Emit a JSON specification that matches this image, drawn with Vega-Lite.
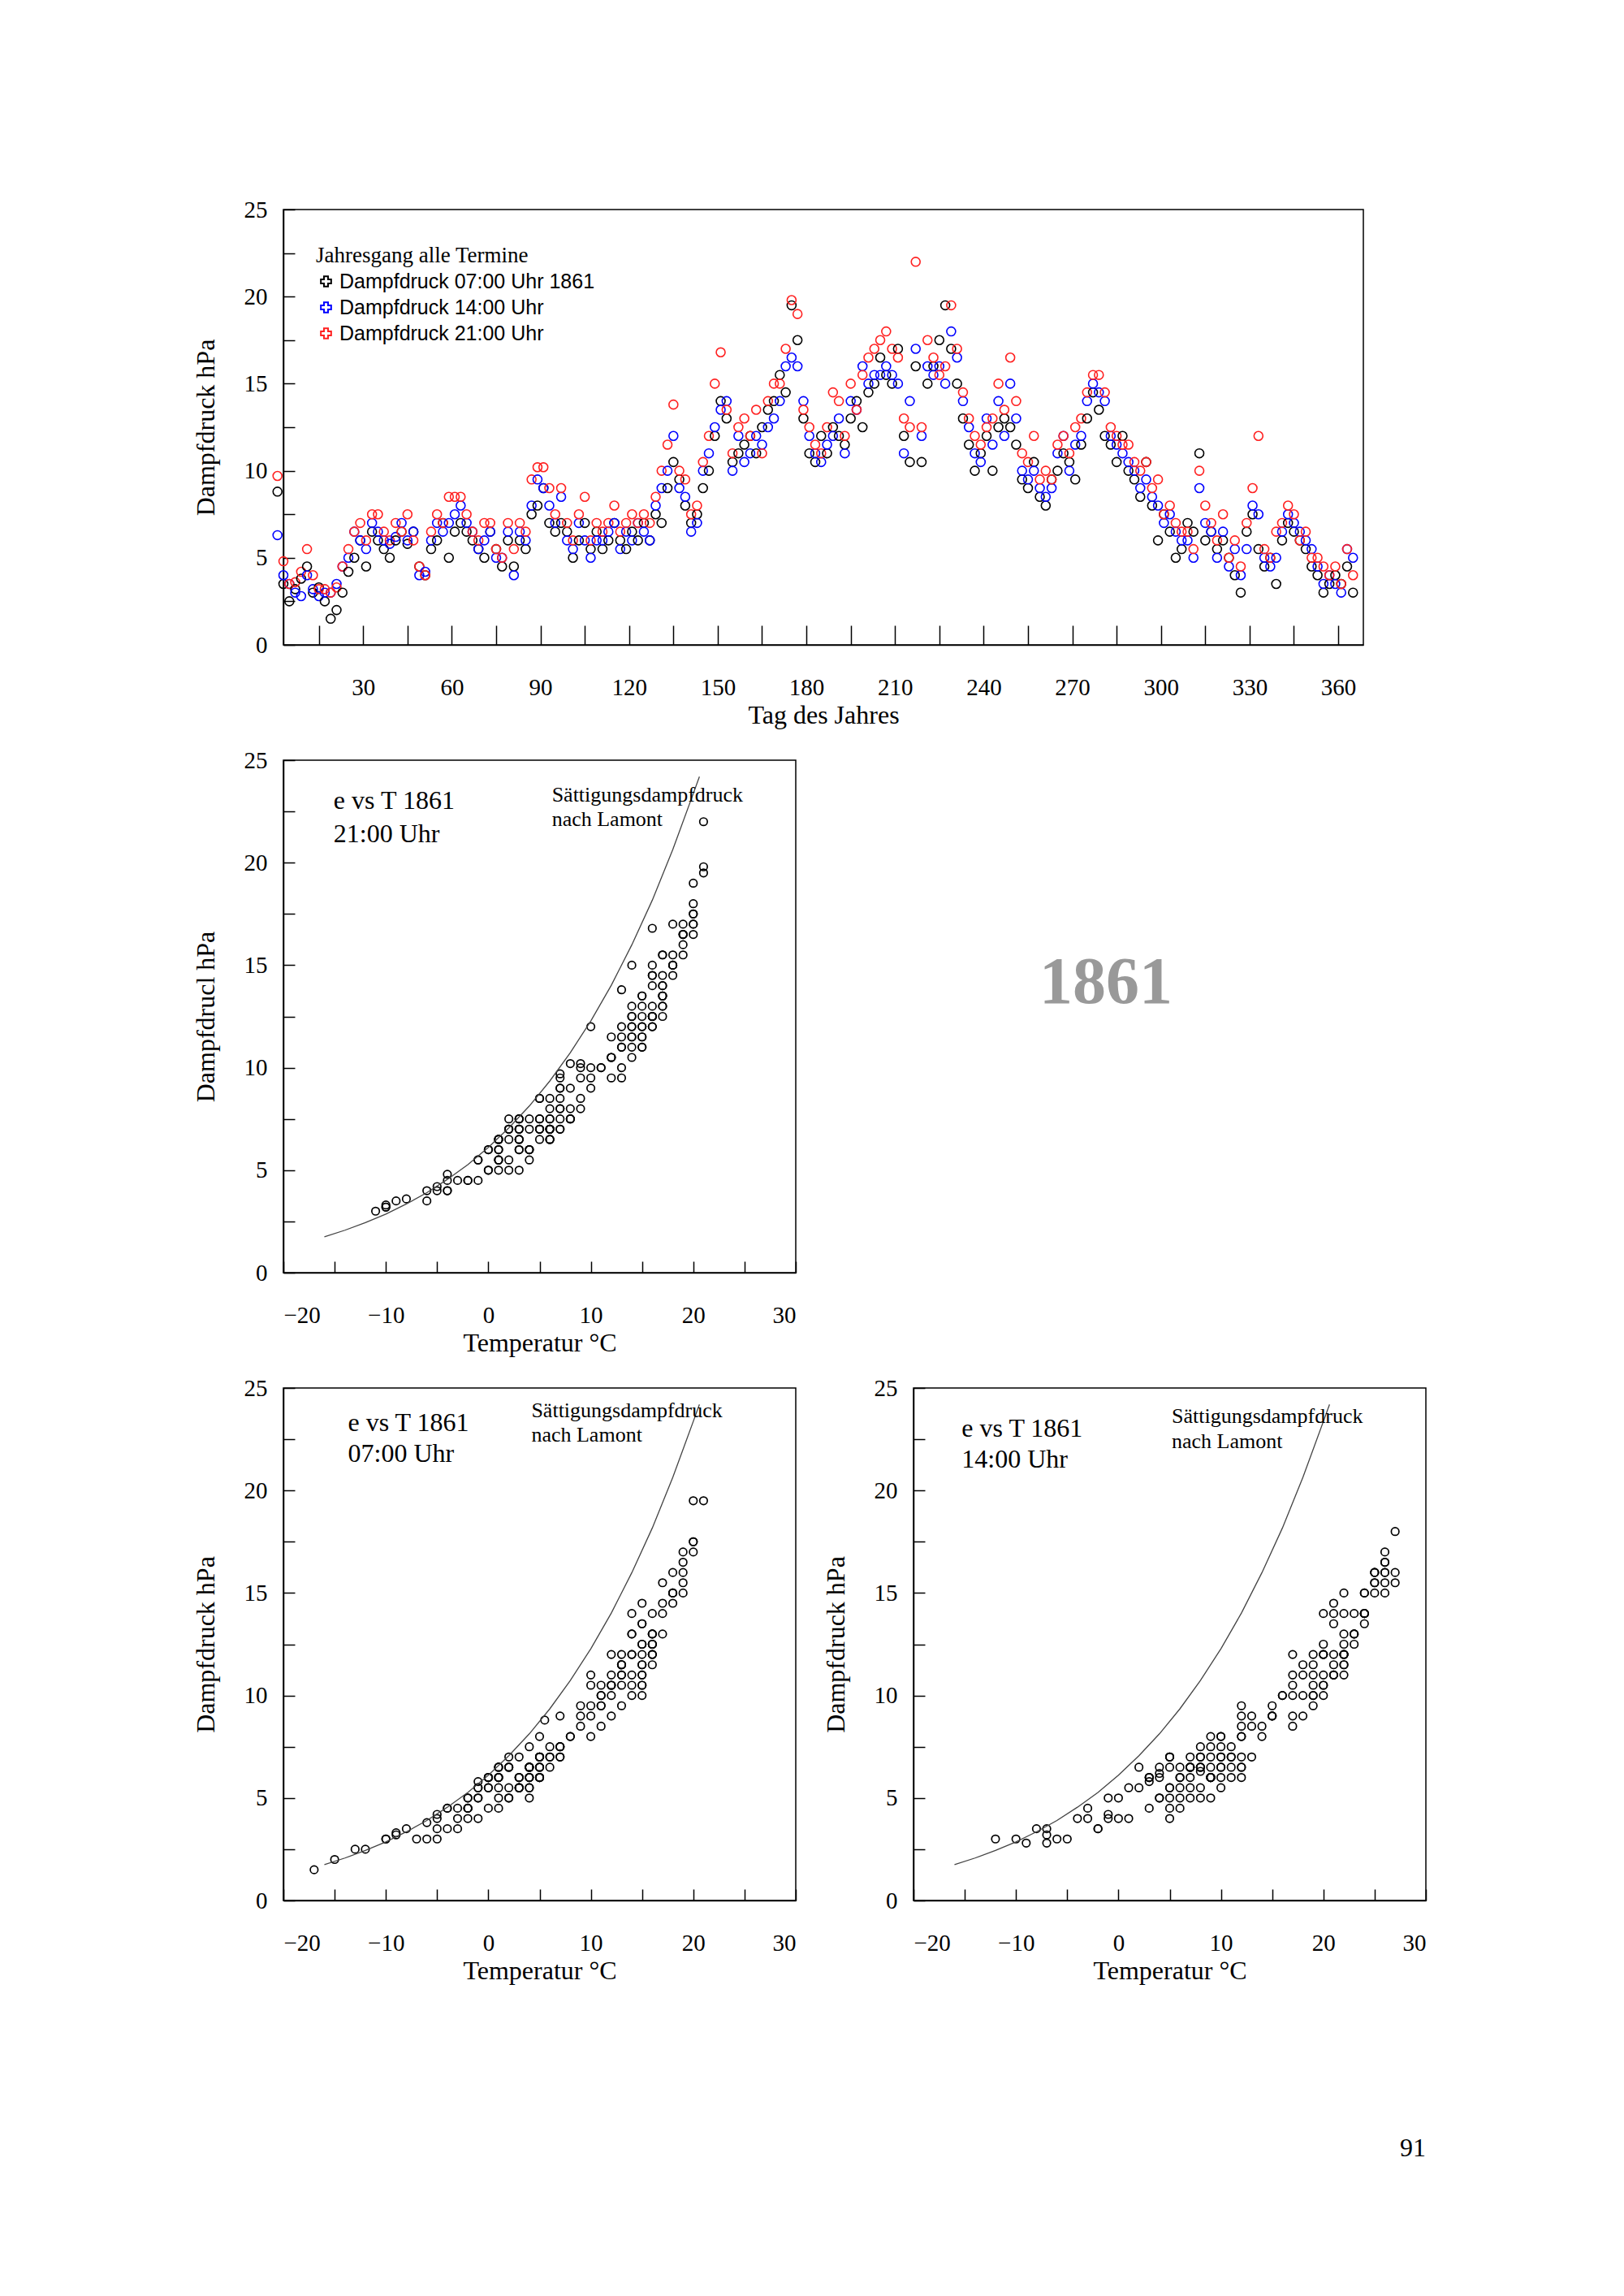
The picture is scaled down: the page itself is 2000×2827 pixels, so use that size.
{
"$schema":"https://vega.github.io/schema/vega-lite/v6.json",
"padding":{"left":236,"top":243,"right":0,"bottom":0},
"background":"white",
"config":{"view":{"stroke":"black","strokeWidth":1.5},"point":{"opacity":1},
"axis":{"grid":false,"domainColor":"black","tickColor":"black","domainWidth":1.5,"tickWidth":1.5,"tickSize":-14,"labelFont":"Liberation Serif","labelFontSize":29,"labelColor":"black","titleFont":"Liberation Serif","titleFontSize":32,"titleFontWeight":"normal","titleColor":"black"},
"axisX":{"labelPadding":52,"titlePadding":4},"axisY":{"labelPadding":34,"titlePadding":30},
"text":{"font":"Liberation Serif","color":"black"}},
"datasets":{
"sat":[{"t":-16,"s":1.75},{"t":-14,"s":2.07},{"t":-12,"s":2.44},{"t":-10,"s":2.86},{"t":-8,"s":3.35},{"t":-6,"s":3.9},{"t":-4,"s":4.55},{"t":-2,"s":5.27},{"t":0,"s":6.11},{"t":2,"s":7.06},{"t":4,"s":8.13},{"t":6,"s":9.35},{"t":8,"s":10.73},{"t":10,"s":12.28},{"t":12,"s":14.02},{"t":14,"s":15.99},{"t":16,"s":18.17},{"t":18,"s":20.64},{"t":20,"s":23.37},{"t":20.6,"s":24.2}],
"m":[
{"d":1,"a":8.8,"b":6.3,"c":9.7,"x":5.5,"y":8,"z":7},
{"d":3,"a":3.5,"b":4.0,"c":4.8,"x":-8,"y":-4,"z":-4},
{"d":5,"a":2.5,"b":3.5,"c":3.5,"x":-12,"y":-7,"z":-9},
{"d":7,"a":3.2,"b":3.0,"c":3.6,"x":-9,"y":-6,"z":-8},
{"d":9,"a":3.8,"b":2.8,"c":4.2,"x":-6,"y":-7,"z":-5},
{"d":11,"a":4.5,"b":4.0,"c":5.5,"x":-4,"y":-3,"z":-1},
{"d":13,"a":3.0,"b":3.2,"c":4.0,"x":-10,"y":-7,"z":-6},
{"d":15,"a":3.3,"b":2.8,"c":3.2,"x":-9,"y":-9,"z":-10},
{"d":17,"a":2.5,"b":3.0,"c":3.2,"x":-13,"y":-10,"z":-10},
{"d":19,"a":1.5,"b":3.0,"c":3.0,"x":-17,"y":-12,"z":-11},
{"d":21,"a":2.0,"b":3.5,"c":3.3,"x":-15,"y":-8,"z":-10},
{"d":23,"a":3.0,"b":4.5,"c":4.5,"x":-10,"y":-3,"z":-4},
{"d":25,"a":4.2,"b":5.0,"c":5.5,"x":-5,"y":-1,"z":-1},
{"d":27,"a":5.0,"b":6.5,"c":6.5,"x":-2,"y":2,"z":1},
{"d":29,"a":6.0,"b":6.0,"c":7.0,"x":0,"y":3,"z":2},
{"d":31,"a":4.5,"b":5.5,"c":6.0,"x":-3,"y":1,"z":0},
{"d":33,"a":6.5,"b":7.0,"c":7.5,"x":1,"y":5,"z":3},
{"d":35,"a":6.0,"b":6.5,"c":7.5,"x":0,"y":4,"z":2},
{"d":37,"a":5.5,"b":6.0,"c":6.5,"x":-1,"y":3,"z":1},
{"d":39,"a":5.0,"b":5.8,"c":6.0,"x":-2,"y":3,"z":0},
{"d":41,"a":6.0,"b":6.2,"c":7.0,"x":0,"y":4,"z":2},
{"d":43,"a":6.5,"b":7.0,"c":6.5,"x":1,"y":5,"z":1},
{"d":45,"a":5.8,"b":6.0,"c":7.5,"x":-1,"y":4,"z":3},
{"d":47,"a":6.5,"b":6.5,"c":6.0,"x":2,"y":5,"z":1},
{"d":49,"a":4.5,"b":4.0,"c":4.5,"x":-4,"y":0,"z":-3},
{"d":51,"a":4.0,"b":4.2,"c":4.0,"x":-5,"y":-1,"z":-5},
{"d":53,"a":5.5,"b":6.0,"c":6.5,"x":-1,"y":3,"z":1},
{"d":55,"a":6.0,"b":7.0,"c":7.5,"x":0,"y":5,"z":3},
{"d":57,"a":7.0,"b":6.5,"c":7.0,"x":2,"y":6,"z":2},
{"d":59,"a":5.0,"b":7.0,"c":8.5,"x":-1,"y":7,"z":5},
{"d":61,"a":6.5,"b":7.5,"c":8.5,"x":1,"y":8,"z":5},
{"d":63,"a":7.0,"b":8.0,"c":8.5,"x":3,"y":9,"z":6},
{"d":65,"a":6.5,"b":7.0,"c":7.5,"x":2,"y":8,"z":4},
{"d":67,"a":6.0,"b":6.5,"c":6.5,"x":1,"y":7,"z":2},
{"d":69,"a":5.5,"b":5.5,"c":6.0,"x":0,"y":5,"z":1},
{"d":71,"a":5.0,"b":6.0,"c":7.0,"x":-1,"y":6,"z":3},
{"d":73,"a":6.5,"b":6.5,"c":7.0,"x":2,"y":8,"z":4},
{"d":75,"a":5.5,"b":5.0,"c":5.5,"x":0,"y":6,"z":1},
{"d":77,"a":4.5,"b":5.0,"c":5.0,"x":-2,"y":4,"z":0},
{"d":79,"a":6.0,"b":6.5,"c":7.0,"x":1,"y":7,"z":3},
{"d":81,"a":4.5,"b":4.0,"c":5.5,"x":-2,"y":5,"z":1},
{"d":83,"a":6.0,"b":6.5,"c":7.0,"x":1,"y":8,"z":3},
{"d":85,"a":5.5,"b":6.0,"c":6.5,"x":1,"y":7,"z":3},
{"d":87,"a":7.5,"b":8.0,"c":9.5,"x":4,"y":10,"z":7},
{"d":89,"a":8.0,"b":9.5,"c":10.2,"x":5,"y":12,"z":8},
{"d":91,"a":9.0,"b":9.0,"c":10.2,"x":7,"y":13,"z":9},
{"d":93,"a":7.0,"b":8.0,"c":9.0,"x":5,"y":12,"z":7},
{"d":95,"a":6.5,"b":7.0,"c":7.5,"x":4,"y":10,"z":6},
{"d":97,"a":7.0,"b":8.5,"c":9.0,"x":5,"y":12,"z":7},
{"d":99,"a":6.5,"b":6.0,"c":7.0,"x":4,"y":9,"z":5},
{"d":101,"a":5.0,"b":5.5,"c":6.0,"x":2,"y":8,"z":4},
{"d":103,"a":6.0,"b":7.0,"c":7.5,"x":3,"y":10,"z":5},
{"d":105,"a":7.0,"b":6.0,"c":8.5,"x":5,"y":9,"z":7},
{"d":107,"a":5.5,"b":5.0,"c":6.0,"x":3,"y":9,"z":4},
{"d":109,"a":6.5,"b":6.0,"c":7.0,"x":4,"y":10,"z":6},
{"d":111,"a":5.5,"b":6.0,"c":6.5,"x":3,"y":9,"z":5},
{"d":113,"a":6.0,"b":6.5,"c":7.0,"x":4,"y":10,"z":6},
{"d":115,"a":7.0,"b":7.0,"c":8.0,"x":5,"y":11,"z":7},
{"d":117,"a":6.0,"b":5.5,"c":6.5,"x":4,"y":10,"z":6},
{"d":119,"a":5.5,"b":6.5,"c":7.0,"x":4,"y":11,"z":6},
{"d":121,"a":6.5,"b":6.0,"c":7.5,"x":5,"y":11,"z":7},
{"d":123,"a":6.0,"b":7.0,"c":7.0,"x":5,"y":12,"z":7},
{"d":125,"a":7.0,"b":6.5,"c":7.5,"x":6,"y":12,"z":8},
{"d":127,"a":6.0,"b":6.0,"c":7.0,"x":5,"y":12,"z":7},
{"d":129,"a":7.5,"b":8.0,"c":8.5,"x":7,"y":14,"z":9},
{"d":131,"a":7.0,"b":9.0,"c":10.0,"x":7,"y":15,"z":10},
{"d":133,"a":9.0,"b":10.0,"c":11.5,"x":9,"y":16,"z":12},
{"d":135,"a":10.5,"b":12.0,"c":13.8,"x":10,"y":17,"z":13},
{"d":137,"a":9.5,"b":9.0,"c":10.0,"x":9,"y":15,"z":11},
{"d":139,"a":8.0,"b":8.5,"c":9.5,"x":8,"y":14,"z":10},
{"d":141,"a":7.0,"b":6.5,"c":7.5,"x":7,"y":12,"z":8},
{"d":143,"a":7.5,"b":7.0,"c":8.0,"x":7,"y":13,"z":9},
{"d":145,"a":9.0,"b":10.0,"c":10.5,"x":10,"y":17,"z":12},
{"d":147,"a":10.0,"b":11.0,"c":12.0,"x":11,"y":18,"z":13},
{"d":149,"a":12.0,"b":12.5,"c":15.0,"x":12,"y":20,"z":14},
{"d":151,"a":14.0,"b":13.5,"c":16.8,"x":14,"y":21,"z":16},
{"d":153,"a":13.0,"b":14.0,"c":13.5,"x":14,"y":22,"z":15},
{"d":155,"a":10.5,"b":10.0,"c":11.0,"x":12,"y":19,"z":13},
{"d":157,"a":11.0,"b":12.0,"c":12.5,"x":13,"y":20,"z":14},
{"d":159,"a":11.5,"b":10.5,"c":13.0,"x":13,"y":19,"z":14},
{"d":161,"a":12.0,"b":11.0,"c":12.0,"x":14,"y":20,"z":15},
{"d":163,"a":11.0,"b":12.0,"c":13.5,"x":13,"y":21,"z":15},
{"d":165,"a":12.5,"b":11.5,"c":11.0,"x":15,"y":22,"z":14},
{"d":167,"a":13.5,"b":12.5,"c":14.0,"x":15,"y":23,"z":16},
{"d":169,"a":14.0,"b":13.0,"c":15.0,"x":16,"y":22,"z":16},
{"d":171,"a":15.5,"b":14.0,"c":15.0,"x":17,"y":24,"z":18},
{"d":173,"a":14.5,"b":16.0,"c":17.0,"x":17,"y":25,"z":18},
{"d":175,"a":19.5,"b":16.5,"c":19.8,"x":20,"y":26,"z":21},
{"d":177,"a":17.5,"b":16.0,"c":19.0,"x":20,"y":27,"z":20},
{"d":179,"a":13.0,"b":14.0,"c":13.5,"x":16,"y":24,"z":17},
{"d":181,"a":11.0,"b":12.0,"c":12.5,"x":15,"y":22,"z":16},
{"d":183,"a":10.5,"b":11.0,"c":11.5,"x":14,"y":21,"z":15},
{"d":185,"a":12.0,"b":10.5,"c":11.0,"x":15,"y":20,"z":15},
{"d":187,"a":11.0,"b":11.5,"c":12.5,"x":14,"y":22,"z":16},
{"d":189,"a":12.5,"b":12.0,"c":14.5,"x":15,"y":22,"z":17},
{"d":191,"a":12.0,"b":13.0,"c":14.0,"x":16,"y":23,"z":17},
{"d":193,"a":11.5,"b":11.0,"c":12.0,"x":15,"y":21,"z":16},
{"d":195,"a":13.0,"b":14.0,"c":15.0,"x":16,"y":24,"z":18},
{"d":197,"a":14.0,"b":13.5,"c":13.5,"x":17,"y":24,"z":17},
{"d":199,"a":12.5,"b":16.0,"c":15.5,"x":16,"y":25,"z":18},
{"d":201,"a":14.5,"b":15.0,"c":16.5,"x":18,"y":26,"z":19},
{"d":203,"a":15.0,"b":15.5,"c":17.0,"x":18,"y":26,"z":19},
{"d":205,"a":16.5,"b":15.5,"c":17.5,"x":19,"y":27,"z":20},
{"d":207,"a":15.5,"b":16.0,"c":18.0,"x":19,"y":26,"z":20},
{"d":209,"a":15.0,"b":15.5,"c":17.0,"x":18,"y":25,"z":20},
{"d":211,"a":17.0,"b":15.0,"c":16.5,"x":19,"y":24,"z":19},
{"d":213,"a":12.0,"b":11.0,"c":13.0,"x":16,"y":22,"z":17},
{"d":215,"a":10.5,"b":14.0,"c":12.5,"x":15,"y":23,"z":16},
{"d":217,"a":16.0,"b":17.0,"c":22.0,"x":18,"y":26,"z":21},
{"d":219,"a":10.5,"b":12.0,"c":12.5,"x":15,"y":22,"z":17},
{"d":221,"a":15.0,"b":16.0,"c":17.5,"x":18,"y":25,"z":20},
{"d":223,"a":16.0,"b":15.5,"c":16.5,"x":19,"y":25,"z":20},
{"d":225,"a":17.5,"b":16.0,"c":15.5,"x":20,"y":26,"z":19},
{"d":227,"a":19.5,"b":15.0,"c":16.0,"x":21,"y":25,"z":19},
{"d":229,"a":17.0,"b":18.0,"c":19.5,"x":20,"y":27,"z":21},
{"d":231,"a":15.0,"b":16.5,"c":17.0,"x":19,"y":26,"z":20},
{"d":233,"a":13.0,"b":14.0,"c":14.5,"x":17,"y":24,"z":18},
{"d":235,"a":11.5,"b":12.5,"c":13.0,"x":16,"y":22,"z":17},
{"d":237,"a":10.0,"b":11.0,"c":12.0,"x":15,"y":21,"z":16},
{"d":239,"a":11.0,"b":10.5,"c":11.5,"x":15,"y":20,"z":15},
{"d":241,"a":12.0,"b":13.0,"c":12.5,"x":16,"y":23,"z":16},
{"d":243,"a":10.0,"b":11.5,"c":13.0,"x":14,"y":21,"z":16},
{"d":245,"a":12.5,"b":14.0,"c":15.0,"x":16,"y":24,"z":18},
{"d":247,"a":13.0,"b":12.0,"c":13.5,"x":16,"y":22,"z":17},
{"d":249,"a":12.5,"b":15.0,"c":16.5,"x":16,"y":24,"z":19},
{"d":251,"a":11.5,"b":13.0,"c":14.0,"x":15,"y":23,"z":17},
{"d":253,"a":9.5,"b":10.0,"c":11.0,"x":13,"y":20,"z":15},
{"d":255,"a":9.0,"b":9.5,"c":10.5,"x":12,"y":19,"z":14},
{"d":257,"a":10.5,"b":10.0,"c":12.0,"x":13,"y":19,"z":15},
{"d":259,"a":8.5,"b":9.0,"c":9.5,"x":11,"y":18,"z":13},
{"d":261,"a":8.0,"b":8.5,"c":10.0,"x":10,"y":17,"z":13},
{"d":263,"a":9.5,"b":9.0,"c":9.5,"x":11,"y":17,"z":12},
{"d":265,"a":10.0,"b":11.0,"c":11.5,"x":12,"y":19,"z":14},
{"d":267,"a":11.0,"b":12.0,"c":12.0,"x":12,"y":20,"z":14},
{"d":269,"a":10.5,"b":10.0,"c":11.0,"x":12,"y":18,"z":13},
{"d":271,"a":9.5,"b":11.5,"c":12.5,"x":11,"y":19,"z":14},
{"d":273,"a":11.5,"b":12.0,"c":13.0,"x":13,"y":20,"z":15},
{"d":275,"a":13.0,"b":14.0,"c":14.5,"x":14,"y":21,"z":16},
{"d":277,"a":14.5,"b":15.0,"c":15.5,"x":15,"y":22,"z":17},
{"d":279,"a":13.5,"b":14.5,"c":15.5,"x":15,"y":21,"z":17},
{"d":281,"a":12.0,"b":14.0,"c":14.5,"x":14,"y":20,"z":16},
{"d":283,"a":11.5,"b":12.0,"c":12.5,"x":13,"y":19,"z":15},
{"d":285,"a":10.5,"b":11.5,"c":12.0,"x":12,"y":18,"z":14},
{"d":287,"a":12.0,"b":11.0,"c":11.5,"x":13,"y":17,"z":14},
{"d":289,"a":10.0,"b":10.5,"c":11.5,"x":11,"y":17,"z":13},
{"d":291,"a":9.5,"b":10.0,"c":10.5,"x":10,"y":16,"z":12},
{"d":293,"a":8.5,"b":9.0,"c":10.0,"x":9,"y":15,"z":11},
{"d":295,"a":10.5,"b":9.5,"c":10.5,"x":11,"y":15,"z":12},
{"d":297,"a":8.0,"b":8.5,"c":9.0,"x":8,"y":13,"z":10},
{"d":299,"a":6.0,"b":8.0,"c":9.5,"x":5,"y":12,"z":9},
{"d":301,"a":7.5,"b":7.0,"c":7.5,"x":7,"y":11,"z":8},
{"d":303,"a":6.5,"b":7.5,"c":8.0,"x":6,"y":11,"z":8},
{"d":305,"a":5.0,"b":6.5,"c":7.0,"x":4,"y":10,"z":6},
{"d":307,"a":5.5,"b":6.0,"c":6.5,"x":4,"y":9,"z":6},
{"d":309,"a":7.0,"b":6.0,"c":6.5,"x":6,"y":9,"z":6},
{"d":311,"a":6.5,"b":5.0,"c":5.5,"x":5,"y":8,"z":4},
{"d":313,"a":11.0,"b":9.0,"c":10.0,"x":10,"y":12,"z":9},
{"d":315,"a":6.0,"b":7.0,"c":8.0,"x":5,"y":9,"z":7},
{"d":317,"a":6.5,"b":6.5,"c":7.0,"x":5,"y":9,"z":6},
{"d":319,"a":5.5,"b":5.0,"c":6.0,"x":3,"y":7,"z":4},
{"d":321,"a":6.0,"b":6.5,"c":7.5,"x":4,"y":8,"z":6},
{"d":323,"a":5.0,"b":4.5,"c":5.0,"x":2,"y":6,"z":3},
{"d":325,"a":4.0,"b":5.5,"c":6.0,"x":-1,"y":6,"z":3},
{"d":327,"a":3.0,"b":4.0,"c":4.5,"x":-5,"y":1,"z":-1},
{"d":329,"a":6.5,"b":5.5,"c":7.0,"x":4,"y":7,"z":5},
{"d":331,"a":7.5,"b":8.0,"c":9.0,"x":6,"y":10,"z":8},
{"d":333,"a":5.5,"b":7.5,"c":12.0,"x":3,"y":10,"z":10},
{"d":335,"a":4.5,"b":5.0,"c":5.5,"x":1,"y":5,"z":2},
{"d":337,"a":5.0,"b":4.5,"c":5.0,"x":1,"y":5,"z":2},
{"d":339,"a":3.5,"b":5.0,"c":6.5,"x":-3,"y":4,"z":3},
{"d":341,"a":6.0,"b":6.5,"c":7.0,"x":3,"y":7,"z":5},
{"d":343,"a":7.0,"b":7.5,"c":8.0,"x":5,"y":9,"z":6},
{"d":345,"a":6.5,"b":7.0,"c":7.5,"x":4,"y":8,"z":5},
{"d":347,"a":6.0,"b":6.5,"c":6.0,"x":3,"y":7,"z":3},
{"d":349,"a":5.5,"b":6.0,"c":6.5,"x":2,"y":6,"z":3},
{"d":351,"a":4.5,"b":5.5,"c":5.0,"x":0,"y":5,"z":1},
{"d":353,"a":4.0,"b":4.5,"c":5.0,"x":-2,"y":3,"z":0},
{"d":355,"a":3.0,"b":3.5,"c":4.5,"x":-6,"y":-2,"z":-2},
{"d":357,"a":3.5,"b":4.0,"c":4.0,"x":-4,"y":-1,"z":-4},
{"d":359,"a":4.0,"b":3.5,"c":4.5,"x":-3,"y":-2,"z":-2},
{"d":361,"a":3.5,"b":3.0,"c":3.5,"x":-5,"y":-5,"z":-6},
{"d":363,"a":4.5,"b":5.5,"c":5.5,"x":-2,"y":2,"z":1},
{"d":365,"a":3.0,"b":5.0,"c":4.0,"x":-7,"y":0,"z":-4}
]},
"vconcat":[
{"width":1330,"height":536,"data":{"name":"m"},
 "transform":[{"fold":["a","b","c"],"as":["k","e"]}],
 "mark":{"type":"point","filled":false,"size":120,"strokeWidth":1.6,"opacity":1},
 "encoding":{
  "x":{"field":"d","type":"quantitative","scale":{"domain":[3,368.5],"nice":false,"zero":false},"axis":{"values":[15,30,45,60,75,90,105,120,135,150,165,180,195,210,225,240,255,270,285,300,315,330,345,360],"labelExpr":"datum.value % 30 == 0 ? datum.label : ''","tickSize":-24,"labelPadding":62,"title":"Tag des Jahres"}},
  "y":{"field":"e","type":"quantitative","scale":{"domain":[0,25],"nice":false},"axis":{"values":[0,2.5,5,7.5,10,12.5,15,17.5,20,22.5,25],"labelExpr":"datum.value % 5 == 0 ? datum.label : ''","title":"Dampfdruck hPa"}},
  "color":{"field":"k","type":"nominal","scale":{"domain":["a","b","c"],"range":["#000000","#0000ff","#ff2020"]},
   "legend":{"orient":"none","legendX":40,"legendY":44,"title":"Jahresgang alle Termine","titleFont":"Liberation Serif","titleFontSize":27,"titleFontWeight":"normal","titleColor":"black","titleLimit":800,"labelLimit":800,"labelFont":"Liberation Sans","labelFontSize":25,"labelColor":"black","symbolType":"cross","symbolSize":160,"symbolStrokeWidth":2,"symbolOpacity":1,"rowPadding":6,"labelExpr":"datum.value=='a' ? 'Dampfdruck 07:00 Uhr 1861' : datum.value=='b' ? 'Dampfdruck 14:00 Uhr' : 'Dampfdruck 21:00 Uhr'"}}}},
{"hconcat":[
 {"width":631,"height":631,"layer":[
  {"data":{"name":"m"},"mark":{"type":"point","filled":false,"size":90,"strokeWidth":1.7,"color":"black","opacity":1},
   "encoding":{"x":{"field":"z","type":"quantitative","scale":{"domain":[-20,30],"nice":false},"axis":{"values":[-20,-15,-10,-5,0,5,10,15,20,25,30],"labelExpr":"datum.value % 10 == 0 ? datum.label : ''","title":"Temperatur °C"}},
    "y":{"field":"c","type":"quantitative","scale":{"domain":[0,25],"nice":false},"axis":{"values":[0,2.5,5,7.5,10,12.5,15,17.5,20,22.5,25],"labelExpr":"datum.value % 5 == 0 ? datum.label : ''","title":"Dampfdrucl hPa"}}}},
  {"data":{"name":"sat"},"mark":{"type":"line","color":"#444","strokeWidth":1.3},"encoding":{"x":{"field":"t","type":"quantitative"},"y":{"field":"s","type":"quantitative"}}},
  {"data":{"values":[{"t":"e vs T 1861","x":-15.1,"y":23.0},{"t":"21:00 Uhr","x":-15.1,"y":21.4}]},"mark":{"type":"text","align":"left","baseline":"middle","fontSize":32},"encoding":{"x":{"field":"x","type":"quantitative"},"y":{"field":"y","type":"quantitative"},"text":{"field":"t"}}},
  {"data":{"values":[{"t":"Sättigungsdampfdruck","x":6.2,"y":23.3},{"t":"nach Lamont","x":6.2,"y":22.1}]},"mark":{"type":"text","align":"left","baseline":"middle","fontSize":26},"encoding":{"x":{"field":"x","type":"quantitative"},"y":{"field":"y","type":"quantitative"},"text":{"field":"t"}}}
 ]},
 {"width":474,"height":631,"view":{"stroke":null},"data":{"values":[{"t":"1861"}]},"mark":{"type":"text","fontSize":82,"fontWeight":"bold","color":"#999999","dy":-42},"encoding":{"text":{"field":"t"}}}
],"spacing":145,"bounds":"flush"},
{"hconcat":[
 {"width":631,"height":631,"layer":[
  {"data":{"name":"m"},"mark":{"type":"point","filled":false,"size":90,"strokeWidth":1.7,"color":"black","opacity":1},
   "encoding":{"x":{"field":"x","type":"quantitative","scale":{"domain":[-20,30],"nice":false},"axis":{"values":[-20,-15,-10,-5,0,5,10,15,20,25,30],"labelExpr":"datum.value % 10 == 0 ? datum.label : ''","title":"Temperatur °C"}},
    "y":{"field":"a","type":"quantitative","scale":{"domain":[0,25],"nice":false},"axis":{"values":[0,2.5,5,7.5,10,12.5,15,17.5,20,22.5,25],"labelExpr":"datum.value % 5 == 0 ? datum.label : ''","title":"Dampfdruck hPa"}}}},
  {"data":{"name":"sat"},"mark":{"type":"line","color":"#444","strokeWidth":1.3},"encoding":{"x":{"field":"t","type":"quantitative"},"y":{"field":"s","type":"quantitative"}}},
  {"data":{"values":[{"t":"e vs T 1861","x":-13.7,"y":23.3},{"t":"07:00 Uhr","x":-13.7,"y":21.8}]},"mark":{"type":"text","align":"left","baseline":"middle","fontSize":32},"encoding":{"x":{"field":"x","type":"quantitative"},"y":{"field":"y","type":"quantitative"},"text":{"field":"t"}}},
  {"data":{"values":[{"t":"Sättigungsdampfdruck","x":4.2,"y":23.9},{"t":"nach Lamont","x":4.2,"y":22.7}]},"mark":{"type":"text","align":"left","baseline":"middle","fontSize":26},"encoding":{"x":{"field":"x","type":"quantitative"},"y":{"field":"y","type":"quantitative"},"text":{"field":"t"}}}
 ]},
 {"width":631,"height":631,"layer":[
  {"data":{"name":"m"},"mark":{"type":"point","filled":false,"size":90,"strokeWidth":1.7,"color":"black","opacity":1},
   "encoding":{"x":{"field":"y","type":"quantitative","scale":{"domain":[-20,30],"nice":false},"axis":{"values":[-20,-15,-10,-5,0,5,10,15,20,25,30],"labelExpr":"datum.value % 10 == 0 ? datum.label : ''","title":"Temperatur °C"}},
    "y":{"field":"b","type":"quantitative","scale":{"domain":[0,25],"nice":false},"axis":{"values":[0,2.5,5,7.5,10,12.5,15,17.5,20,22.5,25],"labelExpr":"datum.value % 5 == 0 ? datum.label : ''","title":"Dampfdruck hPa"}}}},
  {"data":{"name":"sat"},"mark":{"type":"line","color":"#444","strokeWidth":1.3},"encoding":{"x":{"field":"t","type":"quantitative"},"y":{"field":"s","type":"quantitative"}}},
  {"data":{"values":[{"t":"e vs T 1861","x":-15.3,"y":23.0},{"t":"14:00 Uhr","x":-15.3,"y":21.5}]},"mark":{"type":"text","align":"left","baseline":"middle","fontSize":32},"encoding":{"x":{"field":"x","type":"quantitative"},"y":{"field":"y","type":"quantitative"},"text":{"field":"t"}}},
  {"data":{"values":[{"t":"Sättigungsdampfdruck","x":5.2,"y":23.6},{"t":"nach Lamont","x":5.2,"y":22.4}]},"mark":{"type":"text","align":"left","baseline":"middle","fontSize":26},"encoding":{"x":{"field":"x","type":"quantitative"},"y":{"field":"y","type":"quantitative"},"text":{"field":"t"}}},
  {"data":{"values":[{"t":"91","x":30,"y":-12.1}]},"mark":{"type":"text","align":"right","baseline":"middle","fontSize":32,"clip":false},"encoding":{"x":{"field":"x","type":"quantitative"},"y":{"field":"y","type":"quantitative"},"text":{"field":"t"}}}
 ]}
],"spacing":145,"bounds":"flush"}
],"spacing":24
}
